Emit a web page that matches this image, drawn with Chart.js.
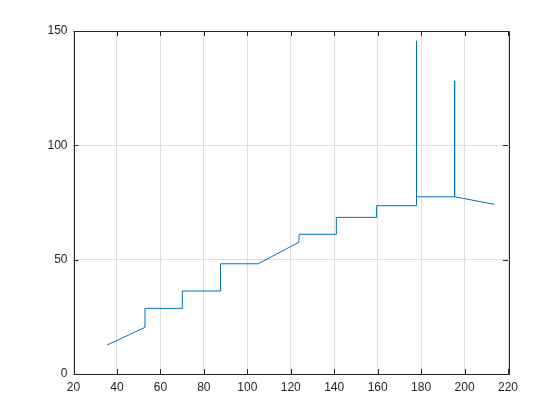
<!DOCTYPE html>
<html>
<head>
<meta charset="utf-8">
<style>
  html, body { margin: 0; padding: 0; background: #fff; }
  #chart { display: block; }
</style>
<script src="https://cdn.jsdelivr.net/npm/chart.js@4"></script>
</head>
<body>
<canvas id="chart" width="560" height="420"></canvas>
<script>
// values
const xValues = [35.5, 52.9, 52.9, 70.1, 70.1, 87.7, 87.7, 105.0, 123.7, 123.9, 141.0, 141.0,
                 159.5, 159.5, 177.8, 177.8, 178.0, 195.4, 195.4, 195.5, 213.8];
const yValues = [12.7, 20.4, 28.7, 28.7, 36.3, 36.3, 48.2, 48.2, 57.6, 61.1, 61.1, 68.5,
                 68.5, 73.6, 73.6, 145.7, 77.5, 77.5, 128.2, 77.5, 74.2];
const xTicks = [20, 40, 60, 80, 100, 120, 140, 160, 180, 200, 220];
const yTicks = [0, 50, 100, 150];

const axisColor = '#262626';
const tickFont = { family: 'Liberation Sans, Arial, sans-serif', size: 12 };

// box round the axes with inward ticks on all four sides
const boxPlugin = {
    id: 'box',
    afterDraw(chart) {
        const c = chart.ctx;
        const a = chart.chartArea;
        const xs = chart.scales.x, ys = chart.scales.y;
        const len = 5;
        c.save();
        c.strokeStyle = axisColor;
        c.lineWidth = 1;
        c.beginPath();
        c.rect(Math.round(a.left) + 0.5, Math.round(a.top) + 0.5,
               Math.round(a.right - a.left), Math.round(a.bottom - a.top));
        xTicks.forEach(v => {
            const px = Math.round(xs.getPixelForValue(v)) + 0.5;
            c.moveTo(px, a.bottom); c.lineTo(px, a.bottom - len);
            c.moveTo(px, a.top); c.lineTo(px, a.top + len);
        });
        yTicks.forEach(v => {
            const py = Math.round(ys.getPixelForValue(v)) + 0.5;
            c.moveTo(a.left, py); c.lineTo(a.left + len, py);
            c.moveTo(a.right, py); c.lineTo(a.right - len, py);
        });
        c.stroke();
        c.restore();
    }
};

new Chart(document.getElementById('chart').getContext('2d'), {
    type: 'scatter',
    data: {
        datasets: [{
            data: xValues.map((x, i) => ({ x: x, y: yValues[i] })),
            showLine: true,
            borderColor: '#0072BD',
            backgroundColor: '#0072BD',
            borderWidth: 1,
            pointRadius: 0,
            tension: 0
        }]
    },
    options: {
        responsive: false,
        animation: false,
        layout: { padding: { top: 31, right: 52, left: 0, bottom: 0 } },
        plugins: { legend: { display: false }, tooltip: { enabled: false } },
        scales: {
            x: {
                type: 'linear',
                min: 20, max: 220,
                afterBuildTicks: s => { s.ticks = xTicks.map(v => ({ value: v })); },
                afterFit: s => { s.height = 46; },
                grid: { color: '#dfdfdf', drawTicks: false },
                border: { display: false },
                ticks: { color: axisColor, font: tickFont, padding: 6, maxRotation: 0 }
            },
            y: {
                type: 'linear',
                min: 0, max: 150,
                afterBuildTicks: s => { s.ticks = yTicks.map(v => ({ value: v })); },
                afterFit: s => { s.width = 73.5; },
                grid: { color: '#dfdfdf', drawTicks: false },
                border: { display: false },
                ticks: { color: axisColor, font: tickFont, padding: 6 }
            }
        }
    },
    plugins: [boxPlugin]
});
</script>
</body>
</html>
